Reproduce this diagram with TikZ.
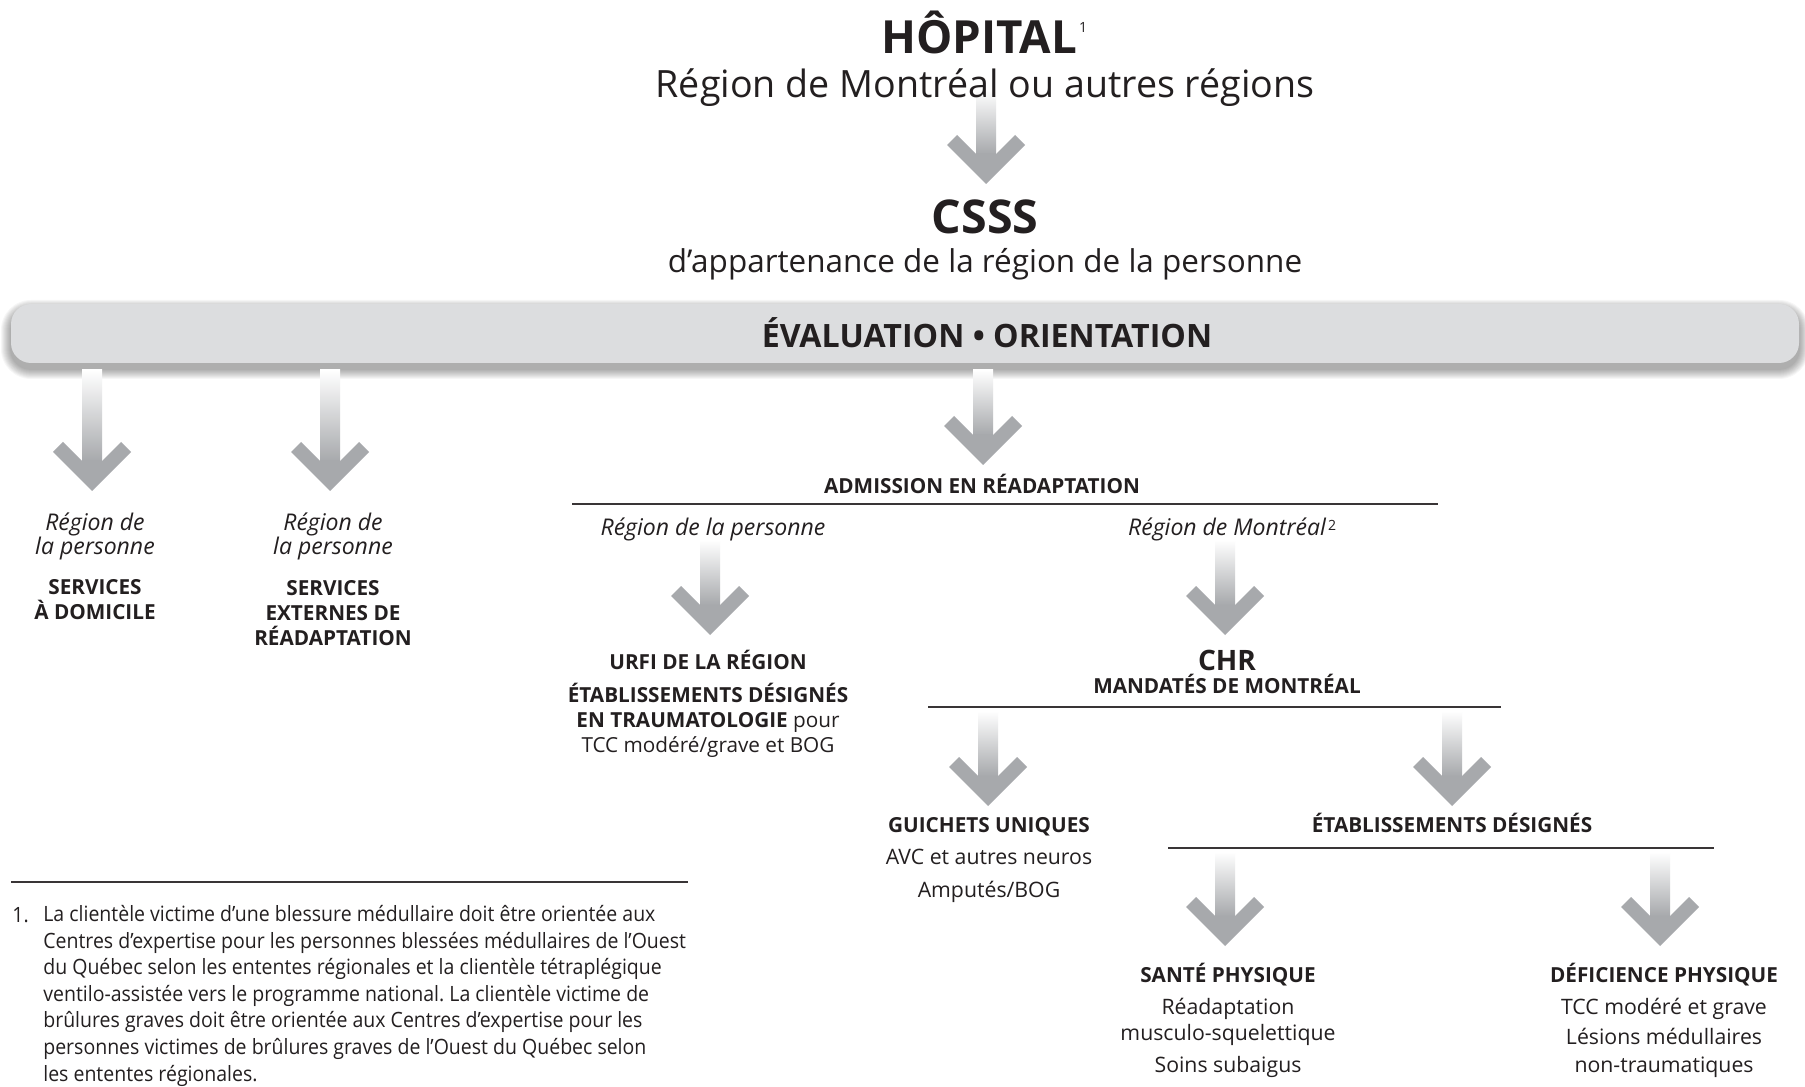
\documentclass[tikz,border=0pt]{standalone}
\usepackage{fontspec}
\setmainfont{Open Sans}
\newfontfamily\notefont{Open Sans}[FakeStretch=0.925]
\usetikzlibrary{calc}
\definecolor{arrowgray}{HTML}{A7A9AC}
\definecolor{bandgray}{HTML}{DCDDDF}
\definecolor{ink}{HTML}{231F20}
\frenchspacing
\tikzset{%
	title/.style = {font = \bfseries\fontsize{26}{30}\selectfont, text = ink, anchor = base, inner sep = 0pt},
	subtitle/.style = {font = \fontsize{21.4}{26}\selectfont, text = ink, anchor = base, inner sep = 0pt},
	head/.style = {font = \bfseries\fontsize{11.8}{14}\selectfont, text = ink, anchor = base, align = center, inner sep = 0pt},
	body/.style = {font = \fontsize{12.1}{14}\selectfont, text = ink, anchor = base, align = center, inner sep = 0pt},
	place/.style = {font = \itshape\fontsize{13.1}{13.7}\selectfont, text = ink, anchor = base, align = center, inner sep = 0pt},
	note/.style = {font = \notefont\fontsize{12}{15.1}\selectfont, text = ink, anchor = base west, align = left, inner sep = 0pt},
	rule/.style = {draw = ink!90, line width = 0.8pt}
}
\newcommand{\grarrow}[2]{%
	\shade [top color = white, bottom color = arrowgray] ($(#1)+(-10,0)$) rectangle ($(#2)+(10,-30)$);
	\fill [arrowgray] (#2) -- ++(39,-39) -- ++(-10,-10) -- ++(-19,19) -- ++(-20,0) -- ++(-19,-19) -- ++(-10,10) -- cycle;
}
\newcommand{\supmark}[2]{\rlap{\raisebox{#1}{\mdseries\upshape\fontsize{8}{8}\selectfont\,#2}}}

\begin{document}
\begin{tikzpicture}[x=0.02cm, y=-0.02cm]
			\useasboundingbox [fill = white] (0,0) rectangle (1805,1087);
			% band with soft shadow
			\foreach \s in {1,...,10}
				\fill [black, opacity = 0.035, rounded corners = {11.4pt+0.57pt*\s}] (11-\s,310-\s) rectangle (1799+\s,369+\s);
			\fill [bandgray, rounded corners = 11.4pt] (11,304) rectangle (1799,363);
			% arrow ends
			\coordinate (hop-s) at (986,90);
			\coordinate (hop-e) at (986,184);
			\coordinate (dom-s) at (92,370);
			\coordinate (dom-e) at (92,491);
			\coordinate (ext-s) at (330,370);
			\coordinate (ext-e) at (330,491);
			\coordinate (adm-s) at (983,370);
			\coordinate (adm-e) at (983,465);
			\coordinate (urfi-s) at (710,540);
			\coordinate (urfi-e) at (710,635);
			\coordinate (chr-s) at (1225,540);
			\coordinate (chr-e) at (1225,635);
			\coordinate (gu-s) at (988,711);
			\coordinate (gu-e) at (988,806);
			\coordinate (etab-s) at (1452,711);
			\coordinate (etab-e) at (1452,806);
			\coordinate (sp-s) at (1225,852);
			\coordinate (sp-e) at (1225,946);
			\coordinate (dp-s) at (1660,852);
			\coordinate (dp-e) at (1660,946);
			\grarrow{hop-s}{hop-e}
			\grarrow{dom-s}{dom-e}
			\grarrow{ext-s}{ext-e}
			\grarrow{adm-s}{adm-e}
			\grarrow{urfi-s}{urfi-e}
			\grarrow{chr-s}{chr-e}
			\grarrow{gu-s}{gu-e}
			\grarrow{etab-s}{etab-e}
			\grarrow{sp-s}{sp-e}
			\grarrow{dp-s}{dp-e}
			% texts (multi-line nodes sit on their last line)
			\node [title] (hop) at (979,54) {HÔPITAL\supmark{12pt}{1}};
			\node [subtitle] (hop-sub) at (985,98) {Région de Montréal ou autres régions};
			\node [title, font = \bfseries\fontsize{26.5}{30}\selectfont] (csss) at (985,234) {CSSS};
			\node [subtitle, font = \fontsize{17.9}{22}\selectfont] (csss-sub) at (985,273) {d’appartenance de la région de la personne};
			\node [title, font = \bfseries\fontsize{18.3}{22}\selectfont] (eval) at (987,348) {ÉVALUATION • ORIENTATION};
			\node [place] (dom-reg) at (95,555) {Région de\\la personne};
			\node [head] (dom) at (95,619) {SERVICES\\À DOMICILE};
			\node [place] (ext-reg) at (333,555) {Région de\\la personne};
			\node [head] (ext) at (333,645) {SERVICES\\EXTERNES DE\\RÉADAPTATION};
			\node [head] (adm) at (982,494) {ADMISSION EN RÉADAPTATION};
			\node [place] (adm-reg) at (713,536) {Région de la personne};
			\node [place] (adm-mtl) at (1227,536) {Région de Montréal\supmark{3pt}{2}};
			\node [head] (urfi) at (708,669) {URFI DE LA RÉGION};
			\node [head] (urfi-txt) at (708,752) {ÉTABLISSEMENTS DÉSIGNÉS\\EN TRAUMATOLOGIE {\mdseries pour}\\{\mdseries TCC modéré/grave et BOG}};
			\node [head, font = \bfseries\fontsize{16}{18}\selectfont] (chr) at (1227,670) {CHR};
			\node [head] (chr-sub) at (1227,693) {MANDATÉS DE MONTRÉAL};
			\node [head] (gu) at (989,832) {GUICHETS UNIQUES};
			\node [body] (gu-txt) at (989,897) {AVC et autres neuros\\[4.4pt]Amputés/BOG};
			\node [head] (etab) at (1452,832) {ÉTABLISSEMENTS DÉSIGNÉS};
			\node [head] (sp) at (1228,982) {SANTÉ PHYSIQUE};
			\node [body] (sp-txt) at (1228,1072) {Réadaptation\\[0.8pt]musculo-squelettique\\[4.2pt]Soins subaigus};
			\node [head] (dp) at (1664,982) {DÉFICIENCE PHYSIQUE};
			\node [body] (dp-txt) at (1664,1072) {TCC modéré et grave\\[3.6pt]Lésions médullaires\\[1.4pt]non-traumatiques};
			% rules
			\draw [rule] (572,504) -- (1438,504);
			\draw [rule] (928,707) -- (1501,707);
			\draw [rule] (1168,848) -- (1714,848);
			\draw [rule] (11,882) -- (688,882);
			% footnote
			\node [note] (fn-num) at (12,922) {1.};
			\node [note] (fn) at (43,1081) {La clientèle victime d’une blessure médullaire doit être orientée aux\\
				Centres d’expertise pour les personnes blessées médullaires de l’Ouest\\
				du Québec selon les ententes régionales et la clientèle tétraplégique\\
				ventilo-assistée vers le programme national. La clientèle victime de\\
				brûlures graves doit être orientée aux Centres d’expertise pour les\\
				personnes victimes de brûlures graves de l’Ouest du Québec selon\\
				les ententes régionales.};
			\end{tikzpicture}
\end{document}
